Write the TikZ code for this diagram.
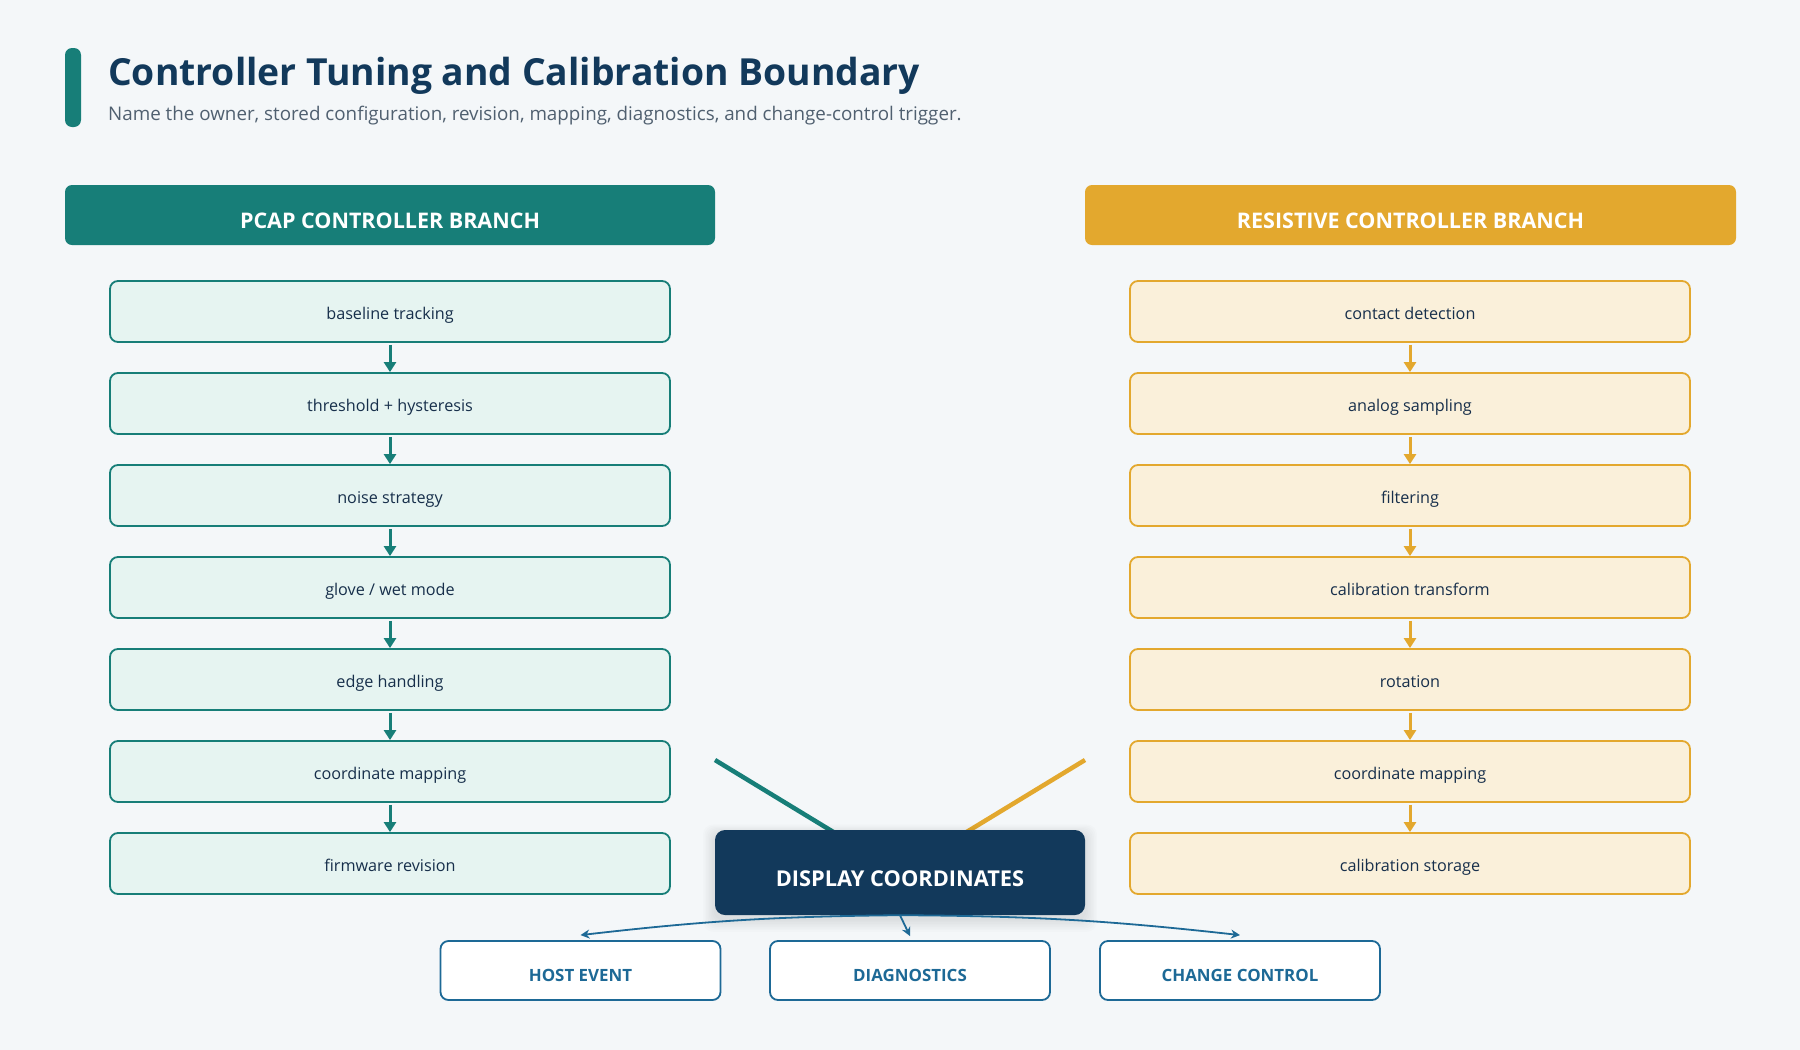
\documentclass[tikz,border=0pt]{standalone}
\usepackage{fontspec}
\setmainfont{Open Sans}
\usetikzlibrary{arrows.meta}
\definecolor{bg}{HTML}{F4F7F9}
\definecolor{teal}{HTML}{177E78}
\definecolor{tealfill}{HTML}{E6F4F1}
\definecolor{gold}{HTML}{E3A82E}
\definecolor{goldfill}{HTML}{FAF0DA}
\definecolor{navy}{HTML}{12395B}
\definecolor{boxtext}{HTML}{172F4B}
\definecolor{subgray}{HTML}{506070}
\definecolor{steel}{HTML}{1D6996}
\tikzset{
  header/.style={rounded corners=7pt, minimum width=650pt, minimum height=60pt, text=white, text height=27pt, text depth=-6pt, font=\bfseries\fontsize{21.5}{25}\selectfont},
  pbox/.style={draw=teal, fill=tealfill, line width=1.8pt, rounded corners=8pt, minimum width=560pt, minimum height=61pt, text=boxtext, text height=15pt, text depth=-4.5pt, font=\fontsize{16.2}{19}\selectfont},
  rbox/.style={pbox, draw=gold, fill=goldfill},
  outbox/.style={draw=steel, fill=white, line width=1.8pt, rounded corners=8pt, minimum width=280pt, minimum height=59pt, text=steel, text height=22pt, text depth=-10pt, font=\bfseries\fontsize{16.9}{19}\selectfont},
  tarrow/.style={draw=teal, line width=3pt, -{Triangle[length=10pt,width=12pt]}, shorten <=2pt},
  garrow/.style={tarrow, draw=gold},
  barrow/.style={draw=steel, line width=1.8pt, -{Stealth[length=9pt,width=9pt]}},
}
\begin{document}
\begin{tikzpicture}[x=1pt,y=-1pt]
\useasboundingbox (0,0) rectangle (1800,1050);
\fill[bg] (0,0) rectangle (1800,1050);
% title
\fill[teal, rounded corners=7pt] (65,48) rectangle (81,127);
\node[anchor=base west, inner sep=0, text=navy, font=\bfseries\fontsize{37.3}{42}\selectfont] (title) at (108,85) {Controller Tuning and Calibration Boundary};
\node[anchor=base west, inner sep=0, text=subgray, font=\fontsize{18.8}{21}\selectfont] (subtitle) at (108,120) {Name the owner, stored configuration, revision, mapping, diagnostics, and change-control trigger.};
% headers
\node[header, fill=teal] (lh) at (390,215) {PCAP CONTROLLER BRANCH};
\node[header, fill=gold, minimum width=651pt] (rh) at (1410.5,215) {RESISTIVE CONTROLLER BRANCH};
% left boxes
\foreach \t [count=\i] in {baseline tracking, threshold + hysteresis, noise strategy, glove / wet mode, edge handling, coordinate mapping, firmware revision}{
  \node[pbox] (l\i) at (390,{311.5+92*(\i-1)}) {\t};
}
\foreach \t [count=\i] in {contact detection, analog sampling, filtering, calibration transform, rotation, coordinate mapping, calibration storage}{
  \node[rbox] (r\i) at (1410,{311.5+92*(\i-1)}) {\t};
}
\foreach \i [evaluate=\i as \j using int(\i+1)] in {1,...,6}{
  \draw[tarrow] (l\i.south) -- (l\j.north);
  \draw[garrow] (r\i.south) -- (r\j.north);
}
% branch lines
\coordinate (lt) at (715,760);
\coordinate (rt) at (1085,760);
\coordinate (dc) at (900,872.5);
\draw[teal, line width=4.5pt] (lt) -- (dc);
\draw[gold, line width=4.5pt] (rt) -- (dc);
% shadow
\foreach \k in {1,...,8}{
  \fill[black, opacity=0.012, rounded corners=10pt] ({715-\k*1.5},{830-\k*1.2+4}) rectangle ({1085+\k*1.5},{915+\k*1.6+4});
}
\node[fill=navy, rounded corners=10pt, minimum width=370pt, minimum height=85pt, text=white, text height=27pt, text depth=-7pt, font=\bfseries\fontsize{21.8}{25}\selectfont] (disp) at (dc) {DISPLAY COORDINATES};
% outputs
\node[outbox] (host) at (580.5,970.5) {HOST EVENT};
\node[outbox] (diag) at (910,970.5) {DIAGNOSTICS};
\node[outbox] (chg) at (1240,970.5) {CHANGE CONTROL};
\draw[barrow] (disp.south) to[bend right=3] ([yshift=5pt]host.north);
\draw[barrow] (disp.south) -- ([yshift=4pt]diag.north);
\draw[barrow] (disp.south) to[bend left=3] ([yshift=5pt]chg.north);
\end{tikzpicture}
\end{document}
